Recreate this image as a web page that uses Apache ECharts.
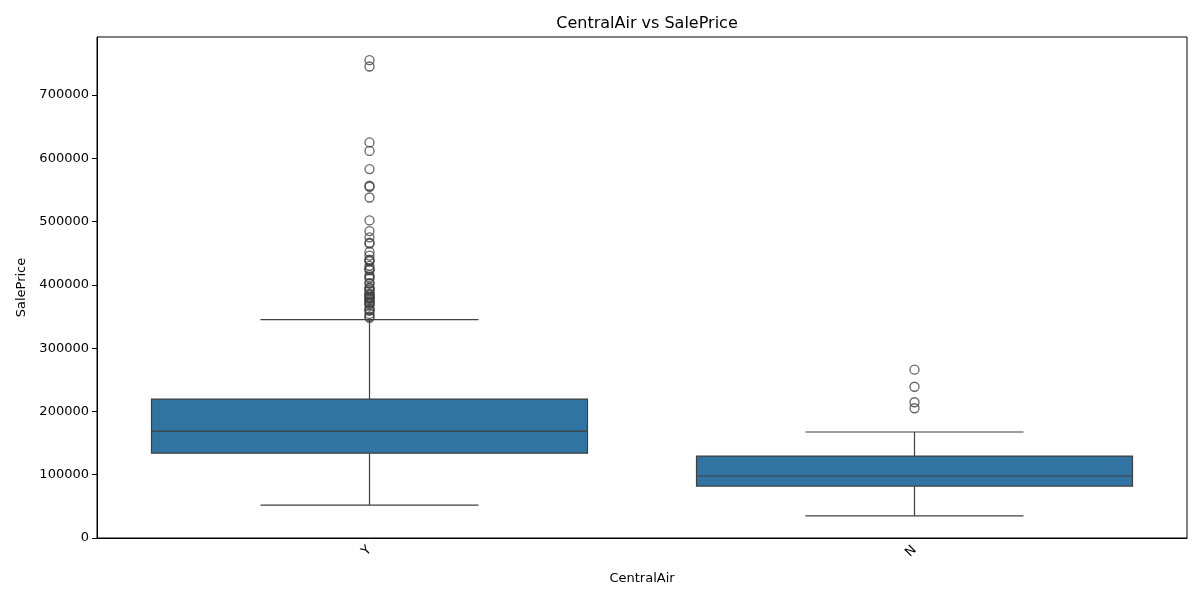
<!DOCTYPE html>
<html>
<head>
<meta charset="utf-8">
<script src="https://cdn.jsdelivr.net/npm/echarts@6/dist/echarts.min.js"></script>
<style>
  html, body { margin: 0; padding: 0; background: #fff; }
  #chart { width: 1200px; height: 600px; }
</style>
</head>
<body>
<div id="chart"></div>
<script>
// categories and five-number summaries
var categories = ['Y', 'N'];
var whiskerLow = [52000, 34900];
var q1 = [134000, 82000];
var median = [169000, 98000];
var q3 = [219500, 129500];
var whiskerHigh = [345000, 167500];

var outliersY = [755000, 745000, 625000, 611657, 582933, 556581, 555000, 538000, 501837,
  485000, 475000, 466500, 465000, 451950, 446261, 440000, 438780, 437154, 430000, 426000,
  424870, 423000, 415298, 412500, 410000, 402861, 402000, 395192, 394617, 392500, 390000,
  386250, 385000, 383970, 381000, 380000, 378500, 377500, 375000, 372500, 370967, 369900,
  367294, 361919, 360000, 359100, 354000, 350000, 348000];
var outliersN = [265979, 239000, 214500, 205000];

var yTicks = [0, 100000, 200000, 300000, 400000, 500000, 600000, 700000];

var boxData = categories.map(function (c, i) {
  return [i, whiskerLow[i], q1[i], median[i], q3[i], whiskerHigh[i]];
});
var outlierData = [];
outliersY.forEach(function (v) { outlierData.push([0, v]); });
outliersN.forEach(function (v) { outlierData.push([1, v]); });

var lineColor = '#3f3f3f';
var boxColor = '#3274a1';

var chart = echarts.init(document.getElementById('chart'));

chart.setOption({
  animation: false,
  backgroundColor: '#fff',
  textStyle: { fontFamily: 'DejaVu Sans' },
  title: {
    text: 'CentralAir vs SalePrice',
    left: 642,
    top: 11,
    textAlign: 'center',
    textStyle: { fontSize: 16, fontWeight: 'normal', color: '#000', fontFamily: 'DejaVu Sans' }
  },
  grid: {
    left: 97, right: 13, top: 37, bottom: 62,
    show: true, borderColor: '#000', borderWidth: 1
  },
  xAxis: {
    type: 'category',
    data: categories,
    boundaryGap: true,
    name: 'CentralAir',
    nameLocation: 'middle',
    nameGap: 34,
    nameTextStyle: { fontSize: 13, color: '#000' },
    axisLine: { lineStyle: { color: '#000' } },
    axisTick: { alignWithLabel: true, length: 5, lineStyle: { color: '#000' } },
    axisLabel: { rotate: 45, fontSize: 13, color: '#000', margin: 10 },
    splitLine: { show: false }
  },
  yAxis: {
    type: 'value',
    min: 0,
    max: 791600,
    interval: 100000,
    name: 'SalePrice',
    nameLocation: 'middle',
    nameGap: 67,
    nameTextStyle: { fontSize: 13, color: '#000' },
    axisLine: { show: true, lineStyle: { color: '#000' } },
    axisTick: { show: true, length: 5, lineStyle: { color: '#000' }, customValues: yTicks },
    axisLabel: {
      fontSize: 13, color: '#000', margin: 8, customValues: yTicks,
      formatter: function (v) { return String(v); }
    },
    splitLine: { show: false }
  },
  series: [
    {
      type: 'custom',
      data: boxData,
      encode: { x: 0, y: [1, 2, 3, 4, 5] },
      renderItem: function (params, api) {
        var x = api.value(0);
        var bw = api.size([1, 0])[0] * 0.8;
        var cap = bw / 2;
        var pLow = api.coord([x, api.value(1)]);
        var pQ1 = api.coord([x, api.value(2)]);
        var pMed = api.coord([x, api.value(3)]);
        var pQ3 = api.coord([x, api.value(4)]);
        var pHigh = api.coord([x, api.value(5)]);
        var cx = pQ1[0];
        var ls = { stroke: lineColor, lineWidth: 1.2 };
        return {
          type: 'group',
          children: [
            { type: 'line', shape: { x1: cx, y1: pQ1[1], x2: cx, y2: pLow[1] }, style: ls },
            { type: 'line', shape: { x1: cx, y1: pQ3[1], x2: cx, y2: pHigh[1] }, style: ls },
            { type: 'line', shape: { x1: cx - cap / 2, y1: pLow[1], x2: cx + cap / 2, y2: pLow[1] }, style: ls },
            { type: 'line', shape: { x1: cx - cap / 2, y1: pHigh[1], x2: cx + cap / 2, y2: pHigh[1] }, style: ls },
            {
              type: 'rect',
              shape: { x: cx - bw / 2, y: pQ3[1], width: bw, height: pQ1[1] - pQ3[1] },
              style: { fill: boxColor, stroke: lineColor, lineWidth: 1.2 }
            },
            { type: 'line', shape: { x1: cx - bw / 2, y1: pMed[1], x2: cx + bw / 2, y2: pMed[1] }, style: ls }
          ]
        };
      },
      z: 2
    },
    {
      type: 'scatter',
      data: outlierData,
      symbol: 'circle',
      symbolSize: 9,
      itemStyle: { color: 'rgba(0,0,0,0)', borderColor: lineColor, borderWidth: 1.3 },
      z: 3
    }
  ]
});
</script>
</body>
</html>
